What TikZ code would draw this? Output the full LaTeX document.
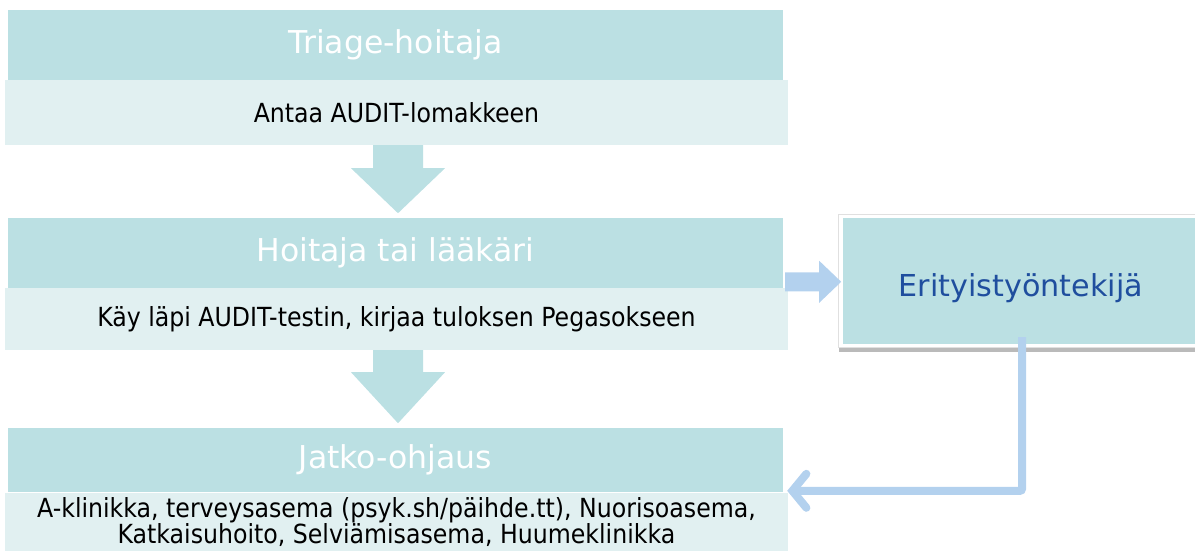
\documentclass[tikz,border=0pt]{standalone}
\usepackage{fontspec}
\setmainfont{DejaVu Sans}
\newfontfamily\condfont{DejaVu Sans Condensed}
\usetikzlibrary{calc,arrows.meta,shadows}
\definecolor{hdr}{HTML}{BBE0E3}
\definecolor{sub}{HTML}{E1F0F1}
\definecolor{lblue}{HTML}{B3D1EE}
\definecolor{dblue}{HTML}{1F4E9E}
\tikzset{
  hdrbox/.style={rectangle, fill=hdr, inner sep=0pt, text=white, font=\fontsize{31.5}{36}\selectfont},
  subbox/.style={rectangle, fill=sub, inner sep=0pt, text=black, font=\condfont\fontsize{26.3}{25}\selectfont, align=center},
  downarrow/.style={fill=hdr},
  sidearrow/.style={fill=lblue},
  elbow/.style={draw=lblue, line width=8pt, rounded corners=2pt, -{Straight Barb[length=14pt,width=34pt,line cap=round]}},
}
\begin{document}
\begin{tikzpicture}[x=1pt,y=-1pt]
\useasboundingbox (0,0) rectangle (1195,550);
% headers and sub boxes
\node[hdrbox, minimum width=775pt, minimum height=70pt] (h1) at (395.5,45) {Triage-hoitaja};
\node[subbox, minimum width=783pt, minimum height=65pt] (s1) at (396.5,112.5) {Antaa AUDIT-lomakkeen};
\node[hdrbox, minimum width=775pt, minimum height=70pt] (h2) at (395.5,253) {Hoitaja tai lääkäri};
\node[subbox, minimum width=783pt, minimum height=62pt] (s2) at (396.5,319) {Käy läpi AUDIT-testin, kirjaa tuloksen Pegasokseen};
\node[hdrbox, minimum width=775pt, minimum height=64pt] (h3) at (395.5,460) {Jatko-ohjaus};
\node[subbox, minimum width=783pt, minimum height=58pt] (s3) at (396.5,522) {A-klinikka, terveysasema (psyk.sh/päihde.tt), Nuorisoasema,\\Katkaisuhoito, Selviämisasema, Huumeklinikka};
% right box
\node[rectangle, fill=white, draw=black!12, line width=0.6pt, drop shadow={shadow xshift=1pt, shadow yshift=-4pt, opacity=0.45, fill=black!60},
      minimum width=362pt, minimum height=133pt, inner sep=0pt] (erf) at (1019,281) {};
\node[rectangle, fill=hdr, minimum width=352pt, minimum height=126pt, inner sep=0pt] (er) at (1019,281) {};
\node[text=dblue, font=\fontsize{30.2}{34}\selectfont, inner sep=0pt] (ert) at ($(er.center)+(2,7)$) {Erityistyöntekijä};
% down arrows
\fill[downarrow] ($(s1.south)+(1.5,0)$) coordinate (a1) ++(-25,0) -- ++(50,0) -- ++(0,23) -- ++(22,0) -- ($(a1)+(0,68)$) -- ($(a1)+(-47,23)$) -- ($(a1)+(-25,23)$) -- cycle;
\fill[downarrow] ($(s2.south)+(1.5,0)$) coordinate (a2) ++(-25,0) -- ++(50,0) -- ++(0,22) -- ++(22,0) -- ($(a2)+(0,73)$) -- ($(a2)+(-47,22)$) -- ($(a2)+(-25,22)$) -- cycle;
% side arrow
\coordinate (ra) at ($(s2.north east)+(-3,-6)$);
\fill[sidearrow] ($(ra)+(0,-9.5)$) -- ($(ra)+(34,-9.5)$) -- ($(ra)+(34,-21)$) -- ($(ra)+(56,0)$) -- ($(ra)+(34,21)$) -- ($(ra)+(34,9.5)$) -- ($(ra)+(0,9.5)$) -- cycle;
% elbow connector
\coordinate (e1) at ($(er.south)+(3,-7)$);
\draw[elbow] (e1) |- ($(s3.north east)+(-1,-2)$);
\end{tikzpicture}
\end{document}
